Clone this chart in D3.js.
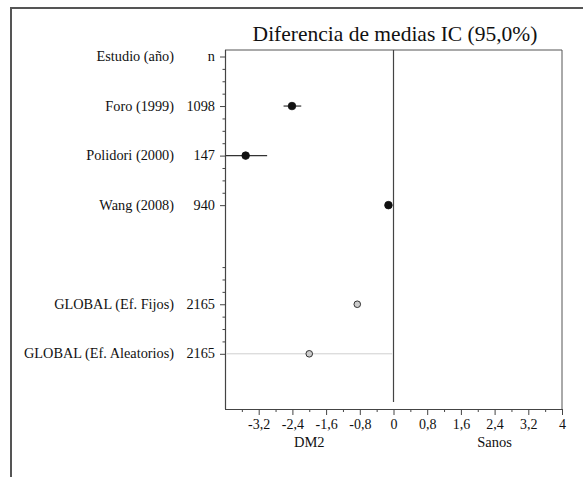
<!DOCTYPE html>
<html>
<head>
<meta charset="utf-8">
<script src="https://cdn.jsdelivr.net/npm/d3@7"></script>
<style>
  html, body { margin: 0; padding: 0; background: #fff; }
  svg { display: block; font-family: "Liberation Serif", "Times New Roman", serif; }
</style>
</head>
<body>
<svg id="chart" width="583" height="477"></svg>
<script>
// ---- data ----
const title = "Diferencia de medias IC (95,0%)";
const headerStudy = "Estudio (año)";
const headerN = "n";
const studies = ["Foro (1999)", "Polidori (2000)", "Wang (2008)", "GLOBAL (Ef. Fijos)", "GLOBAL (Ef. Aleatorios)"];
const rows = [1, 2, 3, 5, 6];
const nValues = [1098, 147, 940, 2165, 2165];
const means = [-2.41, -3.51, -0.12, -0.86, -2.00];
const lower = [-2.61, -3.98, -0.16, -0.90, -3.96];
const upper = [-2.19, -3.00, -0.08, -0.82, -0.03];
const isGlobal = [false, false, false, true, true];
const xMajorTicks = [-3.2, -2.4, -1.6, -0.8, 0, 0.8, 1.6, 2.4, 3.2, 4];
const xMinorTicks = [-3.6, -2.8, -2.0, -1.2, -0.4, 0.4, 1.2, 2.0, 2.8, 3.6];
const yMajorTicks = [0, 1, 2, 3, 5, 6];
const yMinorTicks = [0.25, 0.5, 0.75, 1.25, 1.5, 1.75, 2.25, 2.5, 2.75, 4.25, 4.5, 4.75, 5.25, 5.5, 5.75];
const leftLabel = "DM2";
const rightLabel = "Sanos";

// ---- layout ----
const svg = d3.select("#chart");
const plotLeft = 225, plotRight = 562, plotTop = 50, plotBottom = 409;
const x = d3.scaleLinear().domain([-4, 4]).range([plotLeft, plotRight]);
const y = d3.scaleLinear().domain([0, 6]).range([56.5, 353.8]);
const fmt = d => String(d).replace(".", ",");

// outer frame
svg.append("path")
  .attr("d", `M11,480 L11,8 L590,8`)
  .attr("fill", "none").attr("stroke", "#555").attr("stroke-width", 2);

// title
svg.append("text").attr("x", 395).attr("y", 41)
  .attr("text-anchor", "middle").attr("font-size", 21.5).attr("fill", "#111")
  .text(title);

// plot box top & right
svg.append("path")
  .attr("d", `M${plotLeft},${plotTop} L${plotRight},${plotTop} L${plotRight},${plotBottom}`)
  .attr("fill", "none").attr("stroke", "#555").attr("stroke-width", 1);

// zero line
svg.append("line")
  .attr("x1", x(0)).attr("x2", x(0)).attr("y1", plotTop).attr("y2", 402)
  .attr("stroke", "#444").attr("stroke-width", 1.2);

// x axis
const gxMinor = svg.append("g").attr("transform", `translate(0,${plotBottom})`)
  .call(d3.axisBottom(x).tickValues(xMinorTicks).tickSize(3).tickFormat(""));
const gx = svg.append("g").attr("transform", `translate(0,${plotBottom})`)
  .call(d3.axisBottom(x).tickValues(xMajorTicks).tickSize(6).tickSizeOuter(0).tickPadding(4).tickFormat(fmt));
gxMinor.select(".domain").remove();
gx.select(".domain").attr("stroke", "#444").attr("stroke-width", 1.2).attr("d", `M${plotLeft},0.5H${plotRight}`);
[gx, gxMinor].forEach(g => g.selectAll(".tick line").attr("stroke", "#444"));
gx.selectAll(".tick text")
  .attr("font-family", "Liberation Serif, serif").attr("font-size", 14).attr("fill", "#111");

// y axis
const gyMinor = svg.append("g").attr("transform", `translate(${plotLeft},0)`)
  .call(d3.axisLeft(y).tickValues(yMinorTicks).tickSize(2.5).tickFormat(""));
const gy = svg.append("g").attr("transform", `translate(${plotLeft},0)`)
  .call(d3.axisLeft(y).tickValues(yMajorTicks).tickSize(5).tickSizeOuter(0).tickFormat(""));
gyMinor.select(".domain").remove();
gy.select(".domain").attr("stroke", "#444").attr("stroke-width", 1.2).attr("d", `M0.5,${plotTop}V${plotBottom}`);
[gy, gyMinor].forEach(g => g.selectAll(".tick line").attr("stroke", "#444"));

// axis labels
svg.append("text").attr("x", x(-2)).attr("y", 447).attr("text-anchor", "middle")
  .attr("font-size", 14.5).attr("fill", "#111").text(leftLabel);
svg.append("text").attr("x", x(2.4)).attr("y", 447).attr("text-anchor", "middle")
  .attr("font-size", 14.5).attr("fill", "#111").text(rightLabel);

// row labels
const labelG = svg.append("g").attr("font-size", 14.3).attr("fill", "#111");
labelG.append("text").attr("x", 174).attr("y", y(0) + 4.5).attr("text-anchor", "end").text(headerStudy);
labelG.append("text").attr("x", 215).attr("y", y(0) + 4.5).attr("text-anchor", "end").text(headerN);
studies.forEach((s, i) => {
  labelG.append("text").attr("x", 174).attr("y", y(rows[i]) + 4.5).attr("text-anchor", "end").text(s);
  labelG.append("text").attr("x", 215).attr("y", y(rows[i]) + 4.5).attr("text-anchor", "end").text(nValues[i]);
});

// CI lines
svg.append("g").selectAll("line").data(means).join("line")
  .attr("x1", (d, i) => x(lower[i])).attr("x2", (d, i) => x(upper[i]))
  .attr("y1", (d, i) => y(rows[i])).attr("y2", (d, i) => y(rows[i]))
  .attr("stroke", (d, i) => i === 4 ? "#cfcfcf" : "#333")
  .attr("stroke-width", (d, i) => i === 4 ? 1 : 1.2);

// points
svg.append("g").selectAll("circle").data(means).join("circle")
  .attr("cx", d => x(d)).attr("cy", (d, i) => y(rows[i]))
  .attr("r", (d, i) => isGlobal[i] ? 3.3 : 3.8)
  .attr("fill", (d, i) => isGlobal[i] ? "#cccccc" : "#111")
  .attr("stroke", (d, i) => isGlobal[i] ? "#333" : "#111")
  .attr("stroke-width", (d, i) => isGlobal[i] ? 1 : 0.8);
</script>
</body>
</html>
